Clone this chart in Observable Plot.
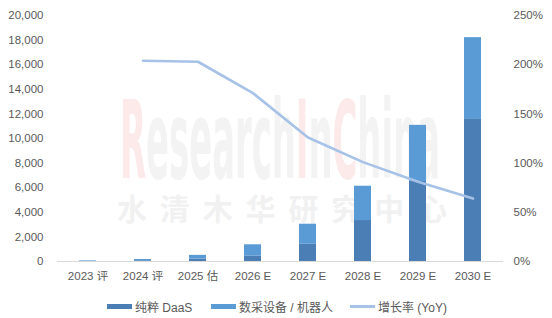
<!DOCTYPE html>
<html>
<head>
<meta charset="utf-8">
<script src="https://cdn.jsdelivr.net/npm/d3@7"></script>
<script src="https://cdn.jsdelivr.net/npm/@observablehq/plot@0.6"></script>
<style>
  html, body { margin: 0; padding: 0; background: #fff; }
  #wrap { position: relative; width: 552px; height: 318px; font-family: "Liberation Sans", "Noto Sans CJK SC", sans-serif; }
  #legend { position: absolute; left: 0; top: 296px; width: 552px; height: 20px; font-size: 12px; color: #595959; }
  .item { position: absolute; top: 2px; display: flex; align-items: center; white-space: nowrap; }
  .sw { display: inline-block; width: 25px; margin-right: 3px; }
</style>
</head>
<body>
<div id="wrap"></div>
<script>
const categories = ["2023 评", "2024 评", "2025 估", "2026 E", "2027 E", "2028 E", "2029 E", "2030 E"];
const seriesNames = ["纯粹 DaaS", "数采设备 / 机器人", "增长率 (YoY)"];
const daas = [20, 60, 190, 430, 1400, 3330, 6500, 11550];
const device = [34, 105, 310, 930, 1630, 2790, 4570, 6650];
const growth = [null, 204, 203, 171, 126, 101, 81, 64];
const leftTicks = [0, 2000, 4000, 6000, 8000, 10000, 12000, 14000, 16000, 18000, 20000];
const rightTicks = [0, 50, 100, 150, 200, 250];
const colors = ["#4a7eb5", "#5b9bd5", "#a6c2e7"];

const yMax = 20000, pMax = 250, k = yMax / pMax;

const bars = [];
categories.forEach((c, i) => {
  bars.push({cat: c, series: seriesNames[0], value: daas[i]});
  bars.push({cat: c, series: seriesNames[1], value: device[i]});
});
const line = categories.map((c, i) => ({cat: c, g: growth[i]})).filter(d => d.g != null);

const plot = Plot.plot({
  width: 552,
  height: 290,
  marginTop: 15,
  marginBottom: 29,
  marginLeft: 57,
  marginRight: 49,
  style: {fontFamily: "'Liberation Sans', 'Noto Sans CJK SC', sans-serif", fontSize: "11.5px", color: "#595959", background: "transparent"},
  x: {domain: categories, paddingInner: 0.686, paddingOuter: 0.343, label: null},
  y: {domain: [0, yMax], label: null},
  color: {domain: seriesNames.slice(0, 2), range: colors.slice(0, 2)},
  marks: [
    Plot.barY(bars, {x: "cat", y: "value", fill: "series"}),
    Plot.ruleY([0], {stroke: "#d9d9d9", strokeWidth: 1}),
    Plot.line(line, {x: "cat", y: d => d.g * k, stroke: colors[2], strokeWidth: 2.6, curve: "linear"}),
    Plot.axisX({tickSize: 0, tickPadding: 10, fill: "#595959", fontSize: 11.5}),
    Plot.axisY({ticks: leftTicks, tickSize: 0, tickPadding: 14, tickFormat: d => d3.format(",")(d), fill: "#595959", fontSize: 11.5}),
    Plot.axisY({anchor: "right", ticks: rightTicks.map(t => t * k), tickSize: 0, tickPadding: 10, tickFormat: d => Math.round(d / k) + "%", fill: "#595959", fontSize: 11.5})
  ]
});

// Watermark (decoration, behind marks)
const svg = d3.select(plot);
const wm = svg.insert("g", "g").attr("pointer-events", "none").attr("text-anchor", "start");
const t1 = wm.append("text")
  .attr("x", 120).attr("y", 178)
  .attr("text-anchor", "start")
  .attr("font-family", "'Liberation Sans Narrow', 'DejaVu Sans Condensed', sans-serif")
  .attr("font-weight", "bold")
  .attr("font-size", 108)
  .attr("textLength", 320).attr("lengthAdjust", "spacingAndGlyphs");
[["R", "#fce9e9"], ["esearch", "#f3f3f3"], ["I", "#fce9e9"], ["n", "#f3f3f3"], ["C", "#fce9e9"], ["hina", "#f3f3f3"]]
  .forEach(([s, c]) => t1.append("tspan").attr("fill", c).text(s));
wm.append("text")
  .attr("x", 117).attr("y", 220)
  .attr("text-anchor", "start")
  .attr("font-family", "'Noto Sans CJK SC', sans-serif")
  .attr("font-weight", "bold")
  .attr("font-size", 30).attr("fill", "#f1f1f1")
  .attr("textLength", 330).attr("lengthAdjust", "spacing")
  .text("水清木华研究中心");

const wrap = document.getElementById("wrap");
wrap.appendChild(plot);

const legend = document.createElement("div");
legend.id = "legend";
const lefts = [107, 211, 350];
const heights = [5, 5, 2.5];
seriesNames.forEach((n, i) => {
  const it = document.createElement("div");
  it.className = "item";
  it.style.left = lefts[i] + "px";
  const sw = document.createElement("span");
  sw.className = "sw";
  sw.style.height = heights[i] + "px";
  sw.style.background = colors[i];
  it.appendChild(sw);
  const tx = document.createElement("span");
  tx.textContent = n;
  it.appendChild(tx);
  legend.appendChild(it);
});
wrap.appendChild(legend);
</script>
</body>
</html>
